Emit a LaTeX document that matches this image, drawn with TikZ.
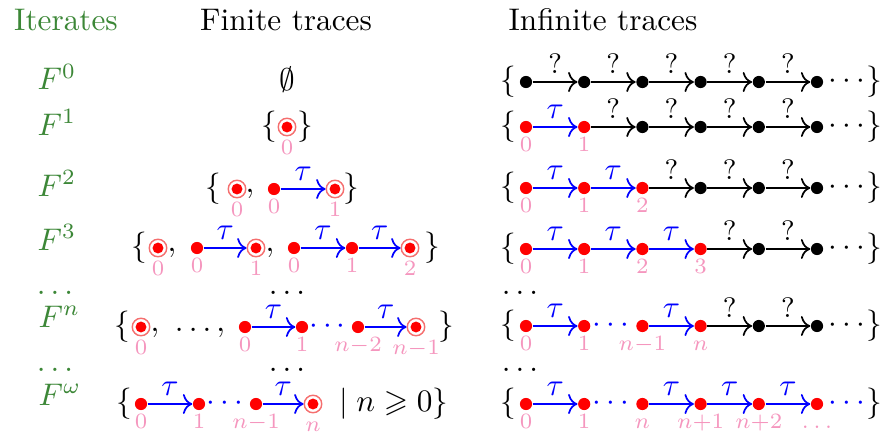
\documentclass[tikz,border=0pt]{standalone}
\usepackage{amsmath, amssymb}
\usepackage{tikz}
\usetikzlibrary{arrows.meta, positioning}
\usepackage{xcolor}
\definecolor{itgreen}{RGB}{60, 135, 55}
\definecolor{idxpink}{RGB}{245, 150, 190}
\definecolor{accring}{RGB}{245, 110, 110}

\begin{document}
\begin{tikzpicture}[x=0.32pt, y=-0.32pt,
  bdot/.style={circle, fill=black, inner sep=0pt, minimum size=3.9pt, label distance=1.6pt},
  rdot/.style={bdot, fill=red},
  acc/.style={circle, draw=accring, line width=0.45pt, fill=white, inner sep=0pt,
    minimum size=5.6pt, label distance=0.6pt,
    path picture={\fill[red] (path picture bounding box.center) circle (1.75pt);}},
  idx/.style={font=\scriptsize, text=idxpink, inner sep=1pt, text height=4.6pt, text depth=0pt},
  tstep/.style={blue, line width=0.55pt, -{To[length=3pt, width=6.4pt]}},
  qstep/.style={tstep, black},
  tlab/.style={above, inner sep=2.4pt, text=blue},
  qlab/.style={tlab, font=\small, text=black},
  brace/.style={inner sep=0pt},
  gaps/.style={inner sep=0pt, text=blue},
  tail/.style={right=0pt of #1, inner sep=1.3pt},
  etc/.style={inner sep=0pt},
  iter/.style={anchor=base west, inner sep=0pt, text=itgreen}]
  \useasboundingbox (0,0) rectangle (884,438);

  % column heads
  \node[anchor=base, text=itgreen] (hiter) at (66,31) {Iterates};
  \node[anchor=base] (hfin) at (286,31) {Finite traces};
  \node[anchor=base] (hinf) at (603,31) {Infinite traces};

  % iterates
  \node[iter] (F0) at (37,90) {$F^0$};
  \node[iter] (F1) at (37,135) {$F^1$};
  \node[iter] (F2) at (37,196) {$F^2$};
  \node[iter] (F3) at (37,250) {$F^3$};
  \node[etc, text=itgreen] (Fd1) at (55,293) {$\ldots$};
  \node[iter] (Fn) at (38,327) {$F^n$};
  \node[etc, text=itgreen] (Fd2) at (55,370) {$\ldots$};
  \node[iter] (Fw) at (38,405) {$F^\omega$};

  %%% finite traces
  \node (e0) at (287,80) {$\emptyset$};
  % F^1
  \node[brace] (lb1) at (269,127) {$\{$};
  \node[acc, label={[idx]below:$0$}] (f1-0) at (287,127) {};
  \node[brace] (rb1) at (305,127) {$\}$};
  % F^2
  \node[brace] (lb2) at (213,189) {$\{$};
  \node[acc, label={[idx]below:$0$}] (f2-0) at (237,189) {};
  \node[anchor=base] (c2) at (250,192) {$,$};
  \node[rdot, label={[idx]below:$0$}] (f2-1) at (274,189) {};
  \node[acc, label={[idx]below:$1$}] (f2-2) at (335,189) {};
  \node[brace] (rb2) at (351,189) {$\}$};
  \draw[tstep] (f2-1) -- node[tlab]{$\tau$} (f2-2);
  % F^3
  \node[brace] (lb3) at (139,248) {$\{$};
  \node[acc, label={[idx]below:$0$}] (f3-0) at (158,248) {};
  \node[anchor=base] (c3a) at (172,251) {$,$};
  \node[rdot, label={[idx]below:$0$}] (f3-1) at (197,248) {};
  \node[acc, label={[idx]below:$1$}] (f3-2) at (256,248) {};
  \node[anchor=base] (c3b) at (270,251) {$,$};
  \node[rdot, label={[idx]below:$0$}] (f3-3) at (294,248) {};
  \node[rdot, label={[idx]below:$1$}] (f3-4) at (352,248) {};
  \node[acc, label={[idx]below:$2$}] (f3-5) at (410,248) {};
  \node[brace] (rb3) at (432,248) {$\}$};
  \draw[tstep] (f3-1) -- node[tlab]{$\tau$} (f3-2);
  \draw[tstep] (f3-3) -- node[tlab]{$\tau$} (f3-4);
  \draw[tstep] (f3-4) -- node[tlab]{$\tau$} (f3-5);
  \node[etc] (fd1) at (287,293) {$\ldots$};
  % F^n
  \node[brace] (lbn) at (122,327) {$\{$};
  \node[acc, label={[idx]below:$0$}] (fn-0) at (141,327) {};
  \node[anchor=base west, inner sep=0pt] (cn) at (150,331) {$,\ \ldots,$};
  \node[rdot, label={[idx]below:$0$}] (fn-1) at (245,327) {};
  \node[rdot, label={[idx]below:$1$}] (fn-2) at (302,327) {};
  \node[rdot, label={[idx]below:$n{-}2$}] (fn-3) at (358,327) {};
  \node[acc, label={[idx]below:$n{-}1$}] (fn-4) at (416,327) {};
  \node[brace] (rbn) at (446,327) {$\}$};
  \draw[tstep] (fn-1) -- node[tlab]{$\tau$} (fn-2);
  \path (fn-2) -- node[gaps]{$\cdots$} (fn-3);
  \draw[tstep] (fn-3) -- node[tlab]{$\tau$} (fn-4);
  \node[etc] (fd2) at (287,370) {$\ldots$};
  % F^omega
  \node[brace] (lbw) at (124,404) {$\{$};
  \node[rdot, label={[idx]below:$0$}] (fw-0) at (141,404) {};
  \node[rdot, label={[idx]below:$1$}] (fw-1) at (199,404) {};
  \node[rdot, label={[idx]below:$n{-}1$}] (fw-2) at (256,404) {};
  \node[acc, label={[idx]below:$n$}] (fw-3) at (313,404) {};
  \node[anchor=west] (cond) at (328,404) {$\mid n \geqslant 0\}$};
  \draw[tstep] (fw-0) -- node[tlab]{$\tau$} (fw-1);
  \path (fw-1) -- node[gaps]{$\cdots$} (fw-2);
  \draw[tstep] (fw-2) -- node[tlab]{$\tau$} (fw-3);

  %%% infinite traces
  % F^0 .. F^3: first \r steps are tau, the rest unknown
  \foreach \r/\yy in {0/82, 1/127, 2/188, 3/249} {
    \node[brace] (lb\r) at (508,\yy) {$\{$};
    \foreach \k in {0,...,5} {
      \pgfmathtruncatemacro\isred{(\k<=\r)&&(\r>0)}
      \ifnum\isred=1
        \node[rdot, label={[idx]below:$\k$}] (s\r-\k) at ({526+58.2*\k},\yy) {};
      \else
        \node[bdot] (s\r-\k) at ({526+58.2*\k},\yy) {};
      \fi
    }
    \foreach \k in {1,...,5} {
      \pgfmathtruncatemacro\j{\k-1}
      \ifnum\k>\r
        \draw[qstep] (s\r-\j) -- node[qlab]{?} (s\r-\k);
      \else
        \draw[tstep] (s\r-\j) -- node[tlab]{$\tau$} (s\r-\k);
      \fi
    }
    \node[tail=s\r-5] (t\r) {$\cdots$};
    \node[brace] (rb\r) at (874,\yy) {$\}$};
  }
  \node[etc] (sd1) at (520,293) {$\ldots$};
  % F^n
  \node[brace] (lbsn) at (508,326) {$\{$};
  \node[rdot, label={[idx]below:$0$}] (sn-0) at (526,326) {};
  \node[rdot, label={[idx]below:$1$}] (sn-1) at (584.2,326) {};
  \node[rdot, label={[idx]below:$n{-}1$}] (sn-2) at (642.4,326) {};
  \node[rdot, label={[idx]below:$n$}] (sn-3) at (700.6,326) {};
  \node[bdot] (sn-4) at (758.8,326) {};
  \node[bdot] (sn-5) at (817,326) {};
  \draw[tstep] (sn-0) -- node[tlab]{$\tau$} (sn-1);
  \path (sn-1) -- node[gaps]{$\cdots$} (sn-2);
  \draw[tstep] (sn-2) -- node[tlab]{$\tau$} (sn-3);
  \draw[qstep] (sn-3) -- node[qlab]{?} (sn-4);
  \draw[qstep] (sn-4) -- node[qlab]{?} (sn-5);
  \node[tail=sn-5] (tn) {$\cdots$};
  \node[brace] (rbsn) at (874,326) {$\}$};
  \node[etc] (sd2) at (520,370) {$\ldots$};
  % F^omega
  \node[brace] (lbsw) at (508,404) {$\{$};
  \node[rdot, label={[idx]below:$0$}] (sw-0) at (526,404) {};
  \node[rdot, label={[idx]below:$1$}] (sw-1) at (584.2,404) {};
  \node[rdot, label={[idx]below:$n$}] (sw-2) at (642.4,404) {};
  \node[rdot, label={[idx]below:$n{+}1$}] (sw-3) at (700.6,404) {};
  \node[rdot, label={[idx]below:$n{+}2$}] (sw-4) at (758.8,404) {};
  \node[rdot, label={[idx]below:$\ldots$}] (sw-5) at (817,404) {};
  \draw[tstep] (sw-0) -- node[tlab]{$\tau$} (sw-1);
  \path (sw-1) -- node[gaps]{$\cdots$} (sw-2);
  \draw[tstep] (sw-2) -- node[tlab]{$\tau$} (sw-3);
  \draw[tstep] (sw-3) -- node[tlab]{$\tau$} (sw-4);
  \draw[tstep] (sw-4) -- node[tlab]{$\tau$} (sw-5);
  \node[tail=sw-5, text=blue] (tw) {$\cdots$};
  \node[brace] (rbsw) at (874,404) {$\}$};
\end{tikzpicture}
\end{document}
